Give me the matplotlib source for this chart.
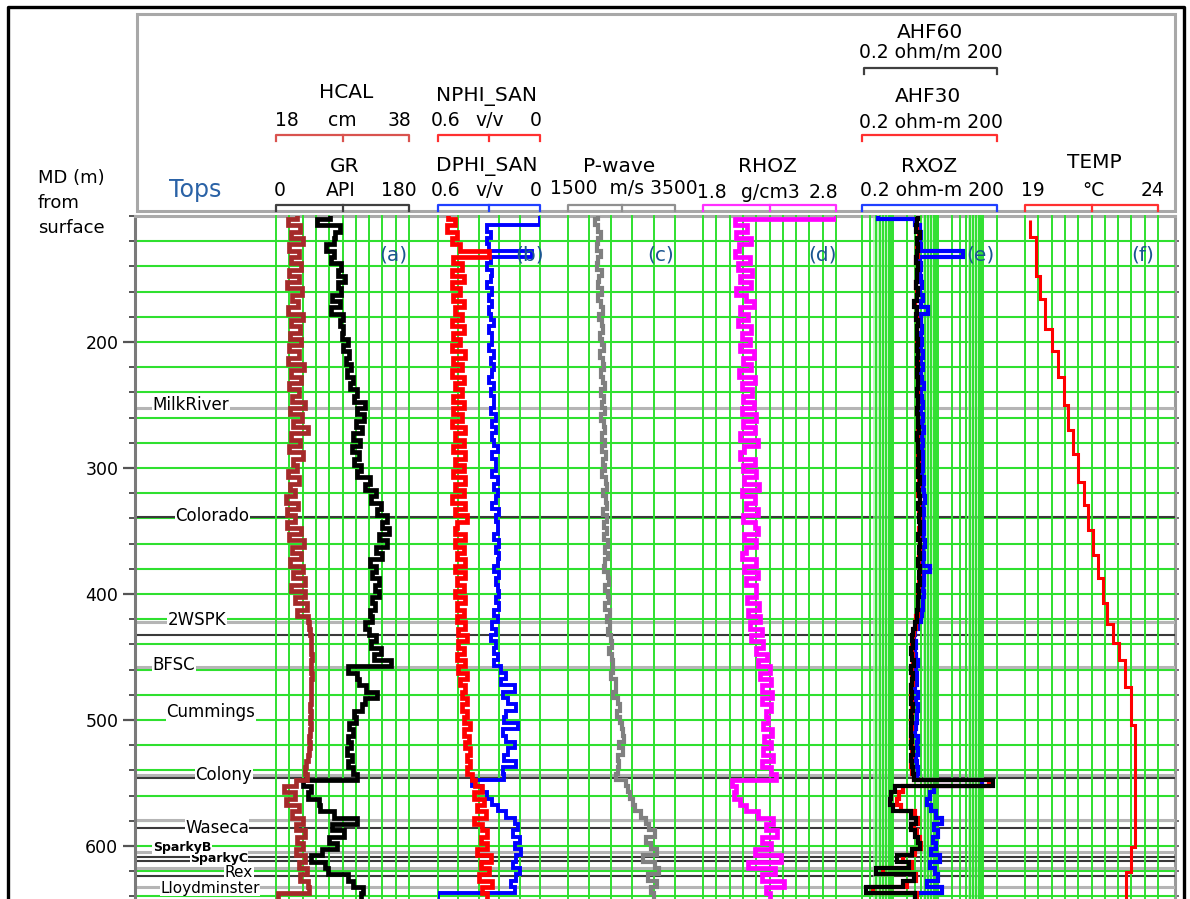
import numpy as np
import matplotlib.pyplot as plt
from matplotlib.patches import Rectangle
from matplotlib.ticker import FixedLocator, MultipleLocator

W, H = 1190, 899
GREEN = '#2fe02f'
TOP_PX = 216                      # top of log area (px from top)
PX_PER_M = 1.26
MD_TOP = 100.0
MD_BASE = MD_TOP + (H - TOP_PX) / PX_PER_M

# ---------------- log data, one value every 5 m ----------------
md = np.arange(100, 641, 5)

hcal = [21.2, 19.8, 21.6, 20.2, 22.0, 19.9, 21.4, 20.3, 21.8, 20.0,
        21.5, 19.7, 21.9, 20.4, 21.3, 19.8, 22.1, 20.2, 21.6, 20.1,
        21.8, 20.0, 21.4, 19.8, 22.2, 20.3, 21.7, 19.9, 21.5, 20.4,
        22.3, 20.1, 21.9, 20.6, 22.8, 20.2, 21.6, 20.0, 22.1, 20.5,
        21.2, 19.8, 21.5, 20.1, 20.9, 19.5, 21.3, 19.7, 20.8, 19.6,
        21.7, 20.0, 22.2, 20.4, 21.8, 20.1, 22.0, 20.6, 22.3, 20.3,
        22.4, 20.8, 22.6, 21.2, 22.8, 23.0, 23.1, 23.2, 23.3, 23.3,
        23.4, 23.3, 23.2, 23.4, 23.3, 23.2, 23.3, 23.2, 23.1, 23.2,
        23.1, 23.2, 23.1, 23.0, 23.1, 23.0, 22.8, 22.5, 22.4, 22.6,
        21.0, 19.2, 20.8, 19.5, 21.5, 20.4, 22.0, 21.0, 22.3, 21.2,
        22.0, 21.0, 22.4, 21.4, 22.6, 21.6, 22.8, 23.0, 18.3]

gr = [73, 55, 86, 80, 79, 68, 78, 74, 88, 84,
      93, 84, 88, 76, 86, 74, 91, 86, 90, 89,
      97, 91, 99, 95, 101, 96, 104, 100, 109, 106,
      120, 110, 119, 108, 116, 104, 114, 103, 112, 105,
      115, 110, 127, 121, 136, 129, 142, 137, 150, 143,
      153, 140, 150, 136, 143, 127, 136, 130, 140, 134,
      140, 130, 134, 127, 130, 121, 126, 136, 128, 142,
      132, 155, 98, 110, 112, 122, 137, 120, 116, 106,
      108, 99, 104, 98, 101, 96, 103, 97, 104, 110,
      36, 47, 43, 58, 59, 78, 110, 76, 92, 72,
      82, 62, 48, 66, 70, 98, 104, 118, 115]

nphi = [0.54, 0.50, 0.55, 0.49, 0.52, 0.47, 0.30, 0.51, 0.46, 0.52,
        0.45, 0.52, 0.47, 0.51, 0.45, 0.50, 0.46, 0.52, 0.45, 0.51,
        0.47, 0.52, 0.44, 0.51, 0.46, 0.52, 0.45, 0.50, 0.46, 0.51,
        0.45, 0.51, 0.46, 0.52, 0.44, 0.50, 0.45, 0.51, 0.44, 0.50,
        0.45, 0.51, 0.44, 0.50, 0.45, 0.52, 0.44, 0.50, 0.43, 0.49,
        0.50, 0.44, 0.50, 0.45, 0.49, 0.44, 0.50, 0.44, 0.49, 0.45,
        0.50, 0.44, 0.49, 0.45, 0.49, 0.44, 0.48, 0.43, 0.48, 0.45,
        0.49, 0.44, 0.48, 0.43, 0.47, 0.44, 0.46, 0.43, 0.46, 0.43,
        0.45, 0.41, 0.45, 0.42, 0.44, 0.41, 0.43, 0.41, 0.43, 0.40,
        0.38, 0.34, 0.39, 0.33, 0.37, 0.32, 0.39, 0.34, 0.31, 0.35,
        0.31, 0.37, 0.29, 0.35, 0.30, 0.36, 0.28, 0.34, 0.31]

dphi = [0.00, 0.00, 0.31, 0.29, 0.31, 0.30, 0.05, 0.29, 0.31, 0.28,
        0.29, 0.31, 0.28, 0.30, 0.28, 0.30, 0.29, 0.27, 0.30, 0.28,
        0.28, 0.30, 0.27, 0.29, 0.27, 0.28, 0.30, 0.27, 0.29, 0.27,
        0.27, 0.29, 0.26, 0.28, 0.26, 0.28, 0.27, 0.25, 0.28, 0.26,
        0.26, 0.28, 0.25, 0.27, 0.25, 0.26, 0.28, 0.24, 0.26, 0.25,
        0.25, 0.27, 0.24, 0.26, 0.24, 0.25, 0.27, 0.24, 0.26, 0.25,
        0.24, 0.26, 0.24, 0.27, 0.25, 0.28, 0.26, 0.29, 0.26, 0.27,
        0.25, 0.27, 0.23, 0.20, 0.23, 0.15, 0.22, 0.19, 0.14, 0.20,
        0.21, 0.13, 0.22, 0.20, 0.15, 0.19, 0.21, 0.14, 0.22, 0.21,
        0.40, 0.34, 0.31, 0.28, 0.25, 0.20, 0.15, 0.13, 0.16, 0.12,
        0.15, 0.11, 0.14, 0.16, 0.12, 0.14, 0.17, 0.15, 0.60]

pwave = [2060, 2000, 2070, 2120, 2060, 2040, 2120, 2070, 2050, 2130,
         2080, 2060, 2140, 2070, 2120, 2150, 2080, 2130, 2160, 2090,
         2140, 2170, 2100, 2160, 2180, 2110, 2160, 2190, 2120, 2170,
         2130, 2190, 2120, 2180, 2200, 2130, 2190, 2140, 2210, 2150,
         2200, 2140, 2210, 2220, 2150, 2210, 2230, 2160, 2220, 2170,
         2230, 2170, 2240, 2190, 2250, 2190, 2170, 2240, 2260, 2190,
         2250, 2270, 2200, 2280, 2230, 2290, 2240, 2300, 2320, 2260,
         2320, 2350, 2340, 2300, 2400, 2390, 2350, 2440, 2470, 2410,
         2480, 2500, 2520, 2540, 2460, 2530, 2440, 2450, 2440, 2390,
         2580, 2630, 2660, 2710, 2760, 2860, 2960, 3020, 3120, 2950,
         3060, 3160, 2900, 3120, 3210, 3000, 3160, 3050, 3100]

rhoz = [2.80, 2.04, 2.13, 2.05, 2.16, 2.07, 2.04, 2.15, 2.06, 2.17,
        2.08, 2.16, 2.05, 2.12, 2.18, 2.08, 2.14, 2.06, 2.16, 2.09,
        2.15, 2.08, 2.18, 2.10, 2.16, 2.07, 2.19, 2.09, 2.17, 2.10,
        2.18, 2.09, 2.20, 2.10, 2.19, 2.08, 2.21, 2.11, 2.08, 2.19,
        2.10, 2.20, 2.11, 2.22, 2.09, 2.19, 2.12, 2.21, 2.10, 2.19,
        2.21, 2.11, 2.20, 2.12, 2.09, 2.20, 2.11, 2.21, 2.12, 2.20,
        2.20, 2.13, 2.22, 2.14, 2.23, 2.15, 2.24, 2.16, 2.25, 2.20,
        2.28, 2.21, 2.30, 2.23, 2.31, 2.24, 2.32, 2.24, 2.31, 2.27,
        2.29, 2.25, 2.32, 2.26, 2.31, 2.25, 2.33, 2.24, 2.31, 2.35,
        2.02, 2.05, 2.03, 2.08, 2.12, 2.21, 2.33, 2.27, 2.36, 2.24,
        2.31, 2.19, 2.39, 2.14, 2.34, 2.24, 2.41, 2.27, 2.30]

ahf60 = [3.6, 3.4, 3.2, 3.8, 3.3, 3.5, 3.4, 3.1, 3.6, 3.3,
         3.4, 3.1, 3.5, 3.3, 2.9, 3.4, 3.2, 3.6, 3.3, 3.4,
         3.5, 3.3, 3.6, 3.4, 3.5, 3.3, 3.6, 3.5, 3.4, 3.6,
         3.5, 3.3, 3.6, 3.5, 3.7, 3.4, 3.6, 3.5, 3.7, 3.6,
         3.7, 3.5, 3.8, 3.6, 3.7, 3.9, 3.6, 3.8, 3.7, 3.9,
         3.8, 3.6, 3.9, 3.7, 3.8, 3.6, 3.9, 3.7, 3.8, 3.6,
         3.7, 3.5, 3.6, 3.4, 3.3, 3.0, 2.7, 2.6, 2.7, 2.5,
         2.6, 2.8, 2.5, 2.7, 2.6, 2.4, 2.6, 2.5, 2.7, 2.5,
         2.6, 2.5, 2.4, 2.6, 2.5, 2.7, 2.5, 2.6, 2.7, 2.8,
         160.0, 1.1, 0.9, 0.85, 1.0, 2.5, 3.2, 2.4, 3.0, 3.5,
         3.8, 2.6, 1.2, 2.2, 0.4, 2.8, 1.6, 0.25, 3.0]

ahf30 = [3.5, 3.3, 3.3, 3.7, 3.4, 3.4, 3.5, 3.2, 3.5, 3.4,
         3.3, 3.2, 3.4, 3.4, 3.0, 3.3, 3.3, 3.5, 3.4, 3.3,
         3.4, 3.4, 3.5, 3.5, 3.4, 3.4, 3.5, 3.6, 3.5, 3.5,
         3.6, 3.4, 3.5, 3.6, 3.6, 3.5, 3.5, 3.6, 3.6, 3.7,
         3.6, 3.6, 3.7, 3.7, 3.6, 3.8, 3.7, 3.7, 3.8, 3.8,
         3.7, 3.7, 3.8, 3.8, 3.7, 3.7, 3.8, 3.8, 3.7, 3.7,
         3.6, 3.6, 3.5, 3.5, 3.2, 3.1, 2.8, 2.7, 2.6, 2.6,
         2.7, 2.7, 2.6, 2.6, 2.7, 2.5, 2.5, 2.6, 2.6, 2.6,
         2.5, 2.6, 2.5, 2.5, 2.6, 2.6, 2.6, 2.5, 2.6, 2.9,
         130.0, 1.6, 1.3, 1.2, 1.5, 3.0, 3.6, 2.9, 3.4, 3.9,
         4.2, 3.0, 1.6, 2.6, 0.6, 3.2, 2.0, 0.35, 3.3]

rxoz = [0.45, 3.0, 3.9, 4.1, 3.8, 4.0, 35.0, 3.9, 4.2, 3.8,
        4.0, 4.3, 3.9, 4.5, 4.1, 6.0, 4.2, 4.0, 4.4, 4.1,
        4.3, 4.0, 4.5, 4.2, 4.6, 4.1, 4.3, 4.7, 4.2, 4.4,
        4.5, 4.2, 4.6, 4.3, 4.8, 4.4, 4.5, 4.3, 4.6, 4.5,
        4.6, 4.4, 4.8, 4.5, 4.7, 4.9, 4.5, 4.7, 4.6, 4.8,
        4.7, 4.5, 4.9, 4.6, 4.8, 4.5, 6.5, 4.7, 4.8, 4.6,
        4.7, 4.5, 4.6, 4.3, 4.0, 3.5, 3.0, 2.9, 3.2, 3.0,
        3.1, 3.6, 3.2, 3.4, 3.3, 3.0, 3.5, 3.2, 3.6, 3.3,
        3.4, 3.2, 3.0, 3.5, 3.3, 3.6, 3.2, 3.4, 3.5, 3.3,
        95.0, 8.0, 6.5, 5.5, 7.0, 9.0, 12.0, 8.0, 10.0, 7.5,
        9.0, 7.0, 11.0, 6.5, 8.5, 10.0, 5.5, 12.0, 3.0]

# temperature is logged in steps: depth of each step and value below it
temp_edges = [103, 117, 148, 166, 190, 207, 228, 250, 270, 289, 311, 329,
              349, 369, 387, 407, 424, 439, 452, 474, 504, 601, 621, 642]
temp = [19.2, 19.4, 19.55, 19.75, 20.0, 20.25, 20.45, 20.6, 20.8, 21.0,
        21.2, 21.35, 21.55, 21.75, 21.95, 22.1, 22.3, 22.55, 22.75, 23.0,
        23.15, 23.0, 22.8]

# formation tops
tops = ['MilkRiver', 'Colorado', '2WSPK', 'BFSC', 'Cummings', 'Colony',
        'Waseca', 'SparkyB', 'SparkyC', 'Rex', 'Lloydminster']
tops_md = [250, 338, 420.6, 456.3, 494, 543.7, 585.7, 601.4, 609.6, 621.0, 633.4]
picks_light = [252.4, 422.5, 458, 544, 579.4, 604.8, 617.5, 632.5]
picks_dark = [339, 432.5, 546.3, 586, 608.7, 611.9, 623.8]

# ---------------- figure ----------------
fig = plt.figure(figsize=(W / 100, H / 100), dpi=100)

# header drawn in pixel units
hdr = fig.add_axes([0, 0, 1, 1], zorder=-1)
hdr.set_xlim(0, W)
hdr.set_ylim(H, 0)
hdr.axis('off')
hdr.plot([8, 8, 1184, 1184], [H, 7, 7, H], color='black', lw=2.4)
hdr.add_patch(Rectangle((137, 14), 1175 - 137, 211 - 14, fill=False,
                        ec='#a8a8a8', lw=2.2))


def bracket(x0, x1, y, color, mid=True):
    hdr.plot([x0, x0, x1, x1], [y + 6, y, y, y + 6], color=color, lw=1.6)
    if mid:
        hdr.plot([(x0 + x1) / 2] * 2, [y, y + 6], color=color, lw=1.6)


def htext(x, y, s, size=13.5, **kw):
    hdr.text(x, y, s, fontsize=size, ha='center', va='center', **kw)


for y, s in [(178, 'MD (m)'), (203, 'from'), (228, 'surface')]:
    hdr.text(38, y, s, fontsize=13, ha='left', va='center')
htext(195, 190, 'Tops', size=17, color='#2a62a6')

# track (a)
htext(346, 92, 'HCAL', size=14.5)
htext(287, 121, '18'); htext(342, 121, 'cm'); htext(399, 121, '38')
bracket(276, 409, 135, '#d9534f')
htext(345, 166, 'GR', size=14.5)
htext(280, 191, '0'); htext(341, 191, 'API'); htext(399, 191, '180')
bracket(276, 409, 205, '#404040')
# track (b)
htext(487, 96, 'NPHI_SAN', size=14.5)
htext(446, 121, '0.6'); htext(490, 121, 'v/v'); htext(536, 121, '0')
bracket(438, 540, 135, '#ff3030')
htext(487, 166, 'DPHI_SAN', size=14.5)
htext(446, 191, '0.6'); htext(490, 191, 'v/v'); htext(536, 191, '0')
bracket(438, 540, 205, '#2040ff')
# track (c)
htext(619, 166, 'P-wave', size=14.5)
htext(624, 189, '1500  m/s 3500')
bracket(568, 675, 205, '#909090')
# track (d)
htext(767, 166, 'RHOZ', size=14.5)
htext(712, 192, '1.8'); htext(770, 192, 'g/cm3'); htext(823, 192, '2.8')
bracket(703, 836, 205, '#ff30ff')
# track (e)
htext(930, 33, 'AHF60', size=14.5)
htext(931, 53, '0.2 ohm/m 200')
bracket(864, 997, 68, '#404040', mid=False)
htext(928, 97, 'AHF30', size=14.5)
htext(931, 122, '0.2 ohm-m 200')
bracket(862, 997, 135, '#ff3030', mid=False)
htext(929, 166, 'RXOZ', size=14.5)
htext(932, 191, '0.2 ohm-m 200')
bracket(862, 997, 205, '#2040ff', mid=False)
# track (f)
htext(1094, 162, 'TEMP', size=14.5)
htext(1033, 190, '19'); htext(1093, 190, '°C'); htext(1153, 190, '24')
bracket(1025, 1158, 205, '#ff3030')

# ---------------- depth frame ----------------
ax_h = (H - TOP_PX) / H
ax = fig.add_axes([135 / W, 0, (1175 - 135) / W, ax_h])
ax.set_xlim(135, 1175)
ax.set_ylim(MD_BASE, MD_TOP)
ax.yaxis.set_major_locator(FixedLocator([200, 300, 400, 500, 600]))
ax.yaxis.set_minor_locator(MultipleLocator(20))
ax.set_xticks([])
ax.set_axisbelow(True)
ax.yaxis.grid(True, which='both', color=GREEN, lw=1.5)
ax.tick_params(axis='y', which='major', length=9, width=1.6, color='#555555',
               labelsize=12.5, pad=3)
ax.tick_params(axis='y', which='minor', length=4, width=1.4, color='#555555')
ax.spines['bottom'].set_visible(False)
ax.spines['right'].set_visible(False)
ax.spines['left'].set_color('#7a7a7a')
ax.spines['left'].set_linewidth(2.2)
ax.spines['top'].set_color('#aaaaaa')
ax.spines['top'].set_linewidth(2.2)

sec = ax.secondary_yaxis('right')
sec.set_yticks(np.arange(120, 641, 20))
sec.tick_params(length=3, width=1.2, color='#555555', labelright=False)
sec.spines['right'].set_color('#9a9a9a')
sec.spines['right'].set_linewidth(2.2)

for d in picks_light:
    ax.axhline(d, color='#b5b5b5', lw=2.2, zorder=2)
for d in picks_dark:
    ax.axhline(d, color='#3a3a3a', lw=1.5, zorder=2)

tops_x = [191, 212, 197, 174, 211, 224, 217, 182, 219, 239, 210]
for i, (name, d, x) in enumerate(zip(tops, tops_md, tops_x)):
    bold = name.startswith('Sparky')
    size = 9 if bold else (11 if i >= 9 else 12)
    ax.text(x, d, name, ha='center', va='center', zorder=20 - i,
            fontsize=size, fontweight='bold' if bold else 'normal',
            bbox=dict(boxstyle='square,pad=0.03', fc='white', ec='none'))

# ---------------- log tracks ----------------
edges = np.r_[md - 2.5, md[-1] + 2.5]


def track(x0, x1, lo, hi, grid, log=False):
    a = fig.add_axes([x0 / W, 0, (x1 - x0) / W, ax_h], sharey=ax)
    a.patch.set_visible(False)
    if log:
        a.set_xscale('log')
    a.set_xlim(lo, hi)
    for g in grid:
        a.axvline(g, color=GREEN, lw=1.4, clip_on=False, zorder=1)
    a.axis('off')
    return a


def curve(a, vals, color, lw=3.4, e=edges):
    a.stairs(vals, e, orientation='horizontal', baseline=None,
             color=color, lw=lw, zorder=3)


ta = track(276, 409, 0, 180, np.linspace(0, 180, 11))
ta_cal = ta.twiny()
ta_cal.set_xlim(18, 38)
ta_cal.axis('off')
curve(ta_cal, hcal, '#a52a2a')
curve(ta, gr, 'black')

tb = track(438, 540, 0.6, 0.0, np.linspace(0.6, 0.0, 6))
curve(tb, dphi, '#0000ff', lw=2.8)
curve(tb, nphi, '#ff0000')

tc = track(568, 675, 1500, 3500, np.linspace(1500, 3500, 6))
curve(tc, pwave, '#808080', lw=3.0)

td = track(703, 836, 1.8, 2.8, np.linspace(1.8, 2.8, 11))
curve(td, rhoz, '#ff00ff')

log_grid = np.r_[np.arange(0.2, 1.0, 0.1), np.arange(1, 10, 1),
                 np.arange(10, 100, 10), 100, 200]
te = track(862, 997, 0.2, 200, log_grid, log=True)
for lo_, hi_ in [(0.36, 1.0), (4.5, 10), (45, 100)]:
    te.axvspan(lo_, hi_, color='#9cf09c', alpha=0.6, zorder=0, lw=0)
curve(te, rxoz, '#0000ff', lw=3.0)
curve(te, ahf30, '#ff0000', lw=3.0)
curve(te, ahf60, 'black', lw=3.0)

tf = track(1025, 1158, 19, 24, np.linspace(19, 24, 11))
curve(tf, temp, '#ff0000', lw=2.2, e=temp_edges)

# track captions
for x, s in [(393, '(a)'), (530, '(b)'), (661, '(c)'), (823, '(d)'),
             (980, '(e)'), (1143, '(f)')]:
    fig.text(x / W, 1 - 255 / H, s, fontsize=14.5, color='#1a5590',
             ha='center', va='center', zorder=10)

fig.savefig('out.png', dpi=100)
